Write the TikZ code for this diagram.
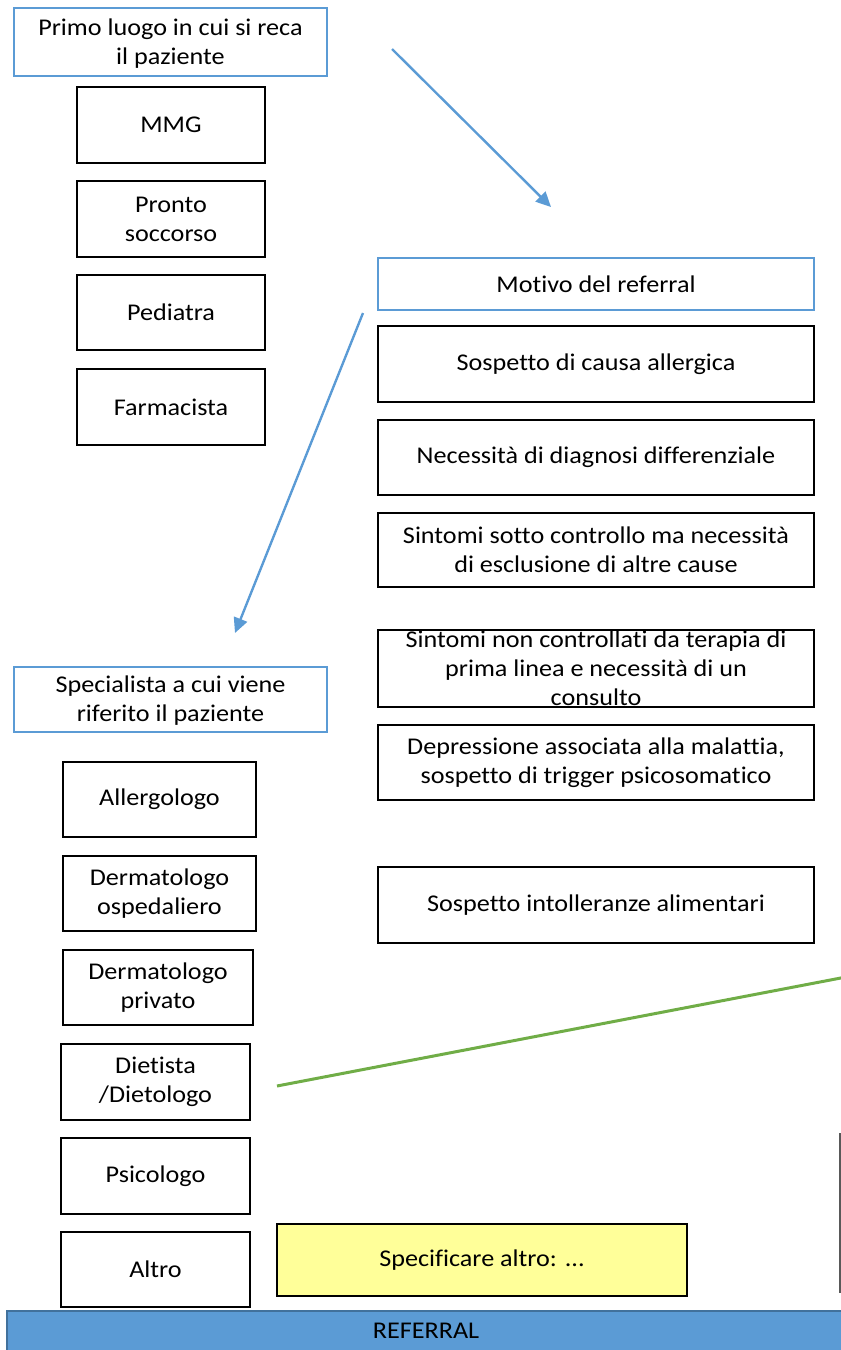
\documentclass[tikz,border=0pt]{standalone}
\usepackage{fontspec}
\setmainfont{Carlito}[FakeStretch=1.09,RawFeature={-liga;-clig;-dlig;-calt}]
\usetikzlibrary{arrows.meta}
\definecolor{hdrblue}{HTML}{5B9BD5}
\definecolor{hdrdark}{HTML}{41719C}
\definecolor{lnkgreen}{HTML}{70AD47}
\definecolor{notefill}{HTML}{FFFF99}
\definecolor{sidegray}{HTML}{595959}
\tikzset{
  txt/.style={font=\fontsize{24}{29}\selectfont, inner sep=0pt, align=center, text=black},
  blk/.style={txt, draw=black, line width=2.2pt},
  hdr/.style={txt, draw=hdrblue, line width=2.4pt},
  note/.style={txt, draw=black, line width=2.2pt, fill=notefill},
  bar/.style={txt, draw=hdrdark, line width=2pt, fill=hdrblue},
  flow/.style={draw=hdrblue, line width=2.4pt, -{Triangle[length=15pt,width=14pt]}},
  greenlink/.style={draw=lnkgreen, line width=3pt},
  sideline/.style={draw=sidegray, line width=1.6pt}
}
\begin{document}
\begin{tikzpicture}[x=1pt,y=-1pt]
\useasboundingbox (0,0) rectangle (841,1350);
% left column, first place
\node[hdr, minimum width=313pt, minimum height=68pt] (primo) at (170.5,42) {};
\node[txt] (primot) at (170.5,44) {Primo luogo in cui si reca\\il paziente};
\node[blk, minimum width=188pt, minimum height=76pt] (mmg) at (171,125) {MMG};
\node[blk, minimum width=188pt, minimum height=76pt] (ps) at (171,219) {Pronto\\soccorso};
\node[blk, minimum width=188pt, minimum height=75pt] (ped) at (171,312.5) {Pediatra};
\node[blk, minimum width=188pt, minimum height=76pt] (farm) at (171,407) {Farmacista};
% right column, reason
\node[hdr, minimum width=436pt, minimum height=52pt] (motivo) at (596,284) {Motivo del referral};
\node[blk, minimum width=436pt, minimum height=76pt] (r1) at (596,364) {Sospetto di causa allergica};
\node[blk, minimum width=436pt, minimum height=75pt] (r2) at (596,457.5) {Necessità di diagnosi differenziale};
\node[blk, minimum width=436pt, minimum height=74pt] (r3) at (596,550) {Sintomi sotto controllo ma necessità\\di esclusione di altre cause};
\node[blk, minimum width=436pt, minimum height=77pt] (r4) at (596,668.5) {};
\node[txt] (r4t) at (r4.center) {Sintomi non controllati da terapia di\\prima linea e necessità di un\\consulto};
\node[blk, minimum width=436pt, minimum height=75pt] (r5) at (596,762.5) {Depressione associata alla malattia,\\sospetto di trigger psicosomatico};
\node[blk, minimum width=436pt, minimum height=76pt] (r6) at (596,905) {Sospetto intolleranze alimentari};
% left column, specialist
\node[hdr, minimum width=313pt, minimum height=65pt] (spec) at (170.5,699.5) {};
\node[txt] (spect) at (170.5,701) {Specialista a cui viene\\riferito il paziente};
\node[blk, minimum width=193pt, minimum height=75pt] (s1) at (159.5,799.5) {Allergologo};
\node[blk, minimum width=193pt, minimum height=75pt] (s2) at (159.5,893.5) {Dermatologo\\ospedaliero};
\node[blk, minimum width=190pt, minimum height=75pt] (s3) at (158,987.5) {Dermatologo\\privato};
\node[blk, minimum width=189pt, minimum height=76pt] (s4) at (155.5,1082) {Dietista\\/Dietologo};
\node[blk, minimum width=189pt, minimum height=76pt] (s5) at (155.5,1176) {Psicologo};
\node[blk, minimum width=189pt, minimum height=75pt] (s6) at (155.5,1269.5) {Altro};
\node[note, minimum width=410pt, minimum height=72pt] (altro) at (482,1260) {Specificare altro: ...};
% bottom bar
\node[bar, minimum width=838pt, minimum height=45pt] (ref) at (426,1333.5) {};
\node[txt] (reft) at (426,1331) {REFERRAL};
% connectors
\coordinate (a1s) at (392,49);
\coordinate (a1e) at (551,207);
\coordinate (a2s) at (363,313);
\coordinate (a2e) at (235,633);
\coordinate (g1) at (277,1086);
\coordinate (g2) at (846,977);
\coordinate (v1) at (840,1133);
\coordinate (v2) at (840,1293);
\draw[flow] (a1s) -- (a1e);
\draw[flow] (a2s) -- (a2e);
\draw[greenlink] (g1) -- (g2);
\draw[sideline] (v1) -- (v2);
\end{tikzpicture}
\end{document}
